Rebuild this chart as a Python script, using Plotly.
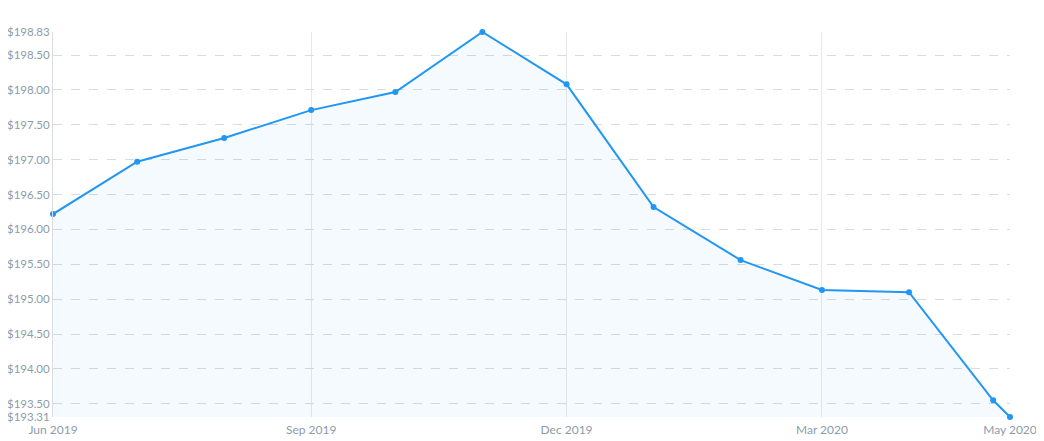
import plotly.graph_objects as go

dates = ["2019-06-01", "2019-07-01", "2019-08-01", "2019-09-01", "2019-10-01",
         "2019-11-01", "2019-12-01", "2020-01-01", "2020-02-01", "2020-03-01",
         "2020-04-01", "2020-05-01", "2020-05-07"]
prices = [196.22, 196.97, 197.31, 197.71, 197.97, 198.83, 198.08, 196.32,
          195.56, 195.13, 195.10, 193.55, 193.31]

x_tick_vals = ["2019-06-01", "2019-09-01", "2019-12-01", "2020-03-01", "2020-05-07"]
x_tick_text = ["Jun 2019", "Sep 2019", "Dec 2019", "Mar 2020", "May 2020"]
x_grid_vals = ["2019-09-01", "2019-12-01", "2020-03-01"]

y_min, y_max = 193.31, 198.83
y_grid_vals = [193.5, 194.0, 194.5, 195.0, 195.5, 196.0, 196.5, 197.0, 197.5, 198.0, 198.5]
y_tick_vals = [y_min] + y_grid_vals + [y_max]
y_tick_text = [f"${v:.2f}" for v in y_tick_vals]

line_color = "#2196F3"
text_color = "#8D9CAA"

fig = go.Figure()
fig.add_trace(go.Scatter(
    x=dates, y=prices, mode="lines+markers",
    line=dict(color=line_color, width=2),
    marker=dict(color=line_color, size=6),
    fill="tozeroy", fillcolor="rgba(33,150,243,0.05)",
    hoverinfo="skip", cliponaxis=False,
))

fig.update_layout(
    width=1044, height=441,
    margin=dict(l=45, r=42, t=24, b=32),
    paper_bgcolor="white", plot_bgcolor="white",
    showlegend=False,
    font=dict(family="Lato, Noto Sans, sans-serif", size=12, color=text_color),
    xaxis=dict(
        type="date", automargin=False,
        range=[dates[0], dates[-1]],
        tickvals=x_tick_vals, ticktext=x_tick_text,
        showgrid=False, zeroline=False, showline=False,
        ticks="", ticklen=0, ticklabelstandoff=4,
        minor=dict(tickvals=x_grid_vals, showgrid=True, gridcolor="#E6E9EC", gridwidth=1, ticks=""),
        tickfont=dict(size=12, color=text_color),
    ),
    yaxis=dict(
        automargin=False,
        range=[y_min, y_max],
        tickvals=y_tick_vals, ticktext=y_tick_text,
        showgrid=False, zeroline=False,
        showline=True, linecolor="#D9DDE1", linewidth=1,
        ticks="", ticklen=0,
        minor=dict(tickvals=y_grid_vals, showgrid=True, gridcolor="#D9DCDF",
                   gridwidth=1, griddash="dash", ticks=""),
        tickfont=dict(size=11.5, color=text_color),
    ),
)

fig.write_html("out.html")
